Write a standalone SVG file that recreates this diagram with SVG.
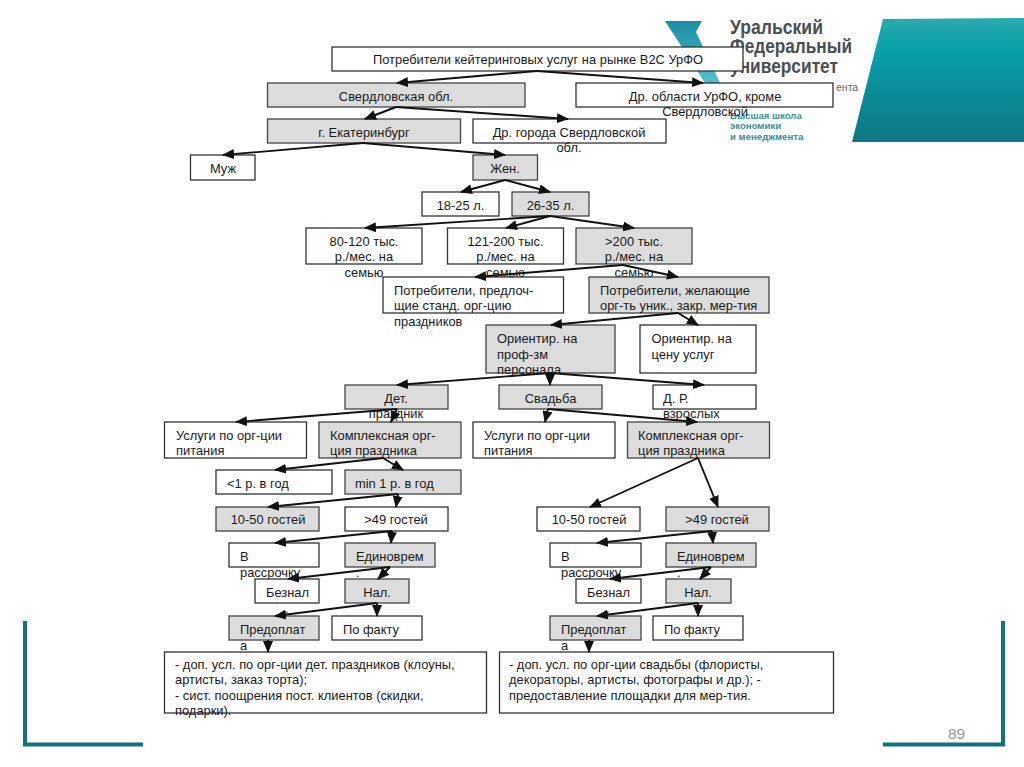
<svg xmlns="http://www.w3.org/2000/svg" width="1024" height="767" viewBox="0 0 1024 767">
<style>
text{font-family:"Liberation Sans",Arial,sans-serif;font-size:12.9px;fill:#1a1a1a}
.c{text-anchor:middle}
rect.w{fill:#fff;stroke:#333;stroke-width:1.3}
rect.g{fill:#dcdcdc;stroke:#444;stroke-width:1.3}
#connectors line{stroke:#111;stroke-width:1.9;marker-end:url(#a)}
.brand{font-weight:bold;font-size:20px;fill:#4a4f52}
.sub{font-weight:bold;font-size:9.6px;fill:#3c8f99}
.fr{fill:#10737c}
</style>
<defs>
<marker id="a" markerUnits="userSpaceOnUse" markerWidth="12" markerHeight="10" refX="11" refY="5" orient="auto"><path d="M0 0L12 5L0 10Z" fill="#111"/></marker>
<linearGradient id="t" x1="0" y1="0" x2="0" y2="1"><stop offset="0" stop-color="#2fa9ae"/><stop offset=".25" stop-color="#08a0aa"/><stop offset="1" stop-color="#0f7684"/></linearGradient>
<linearGradient id="v" x1="0" y1="0" x2="0" y2="1"><stop offset="0" stop-color="#1b8ea0"/><stop offset="1" stop-color="#57bdd0"/></linearGradient>
</defs>
<rect width="1024" height="767" fill="#fff"/>
<g id="background">
<polygon points="883,19 1024,18 1024,142 852,142" fill="url(#t)"/>
<polygon points="665,21 702,21 696,32 720,83 705,83" fill="url(#v)"/>
<text class="brand" x="730" y="34" textLength="93" lengthAdjust="spacingAndGlyphs">Уральский</text>
<text class="brand" x="730" y="53" textLength="122" lengthAdjust="spacingAndGlyphs">Федеральный</text>
<text class="brand" x="730" y="73" textLength="108" lengthAdjust="spacingAndGlyphs">университет</text>
<text x="836" y="91" style="font-size:10.5px;fill:#666">ента</text>
<text class="sub" x="730" y="119">Высшая школа</text>
<text class="sub" x="730" y="129">экономики</text>
<text class="sub" x="730" y="140">и менеджмента</text>
<path class="fr" d="M23 621H27V742.500H143V746.500H23Z"/>
<path class="fr" d="M1001 621H1005V746.500H883V742.500H1001Z"/>
<text x="948" y="739" style="font-size:15.500px;fill:#999">89</text>
</g>
<g id="nodes">
<g id="n1"><rect class="w" x="332" y="47" width="411" height="24"/><text class="c" x="538" y="64">Потребители кейтеринговых услуг на рынке В2С УрФО</text></g>
<g id="n2"><rect class="g" x="267.500" y="83" width="257.500" height="24"/><text class="c" x="396" y="101">Свердловская обл.</text></g>
<g id="n3"><rect class="w" x="576" y="83" width="257" height="24"/><text class="c" x="705" y="101">Др. области УрФО, кроме</text><text class="c" x="705" y="116">Свердловской</text></g>
<g id="n4"><rect class="g" x="267.500" y="119" width="193" height="24"/><text class="c" x="364" y="137">г. Екатеринбург</text></g>
<g id="n5"><rect class="w" x="473" y="119" width="193" height="24"/><text class="c" x="569" y="137">Др. города Свердловской</text><text class="c" x="569" y="152">обл.</text></g>
<g id="n6"><rect class="w" x="190.500" y="155" width="64.500" height="25"/><text class="c" x="223" y="173">Муж</text></g>
<g id="n7"><rect class="g" x="473" y="155" width="64.500" height="25"/><text class="c" x="505" y="173">Жен.</text></g>
<g id="n8"><rect class="w" x="422" y="192" width="77" height="24"/><text class="c" x="460.500" y="210">18-25 л.</text></g>
<g id="n9"><rect class="g" x="512" y="192" width="77" height="24"/><text class="c" x="550.500" y="210">26-35 л.</text></g>
<g id="n10"><rect class="w" x="306" y="228" width="116" height="36"/><text class="c" x="364" y="246">80-120 тыс.</text><text class="c" x="364" y="261">р./мес. на</text><text class="c" x="364" y="277">семью</text></g>
<g id="n11"><rect class="w" x="447.500" y="228" width="116" height="36"/><text class="c" x="505.500" y="246">121-200 тыс.</text><text class="c" x="505.500" y="261">р./мес. на</text><text class="c" x="505.500" y="277">семью</text></g>
<g id="n12"><rect class="g" x="576" y="228" width="116" height="36"/><text class="c" x="634" y="246">&gt;200 тыс.</text><text class="c" x="634" y="261">р./мес. на</text><text class="c" x="634" y="277">семью</text></g>
<g id="n13"><rect class="w" x="383" y="277" width="180.500" height="36"/><text x="394" y="295">Потребители, предлоч-</text><text x="394" y="310">щие станд. орг-цию</text><text x="394" y="326">праздников</text></g>
<g id="n14"><rect class="g" x="589" y="277" width="180" height="36"/><text x="600" y="295">Потребители, желающие</text><text x="600" y="310">орг-ть уник., закр. мер-тия</text></g>
<g id="n15"><rect class="g" x="486" y="325" width="129" height="48"/><text x="497" y="343">Ориентир. на</text><text x="497" y="359">проф-зм</text><text x="497" y="374">персонала</text></g>
<g id="n16"><rect class="w" x="640" y="325" width="116" height="48"/><text x="651.500" y="343">Ориентир. на</text><text x="651.500" y="359">цену услуг</text></g>
<g id="n17"><rect class="g" x="345" y="385" width="103" height="24"/><text class="c" x="396" y="403">Дет.</text><text class="c" x="396" y="418">праздник</text></g>
<g id="n18"><rect class="g" x="499" y="385" width="103" height="24"/><text class="c" x="550.500" y="403">Свадьба</text></g>
<g id="n19"><rect class="w" x="653" y="385" width="103" height="24"/><text x="663" y="403">Д. Р.</text><text x="663" y="418">взрослых</text></g>
<g id="n20"><rect class="w" x="164.500" y="422" width="142" height="36"/><text x="176" y="440">Услуги по орг-ции</text><text x="176" y="455">питания</text></g>
<g id="n21"><rect class="g" x="319" y="422" width="142" height="36"/><text x="330" y="440">Комплексная орг-</text><text x="330" y="455">ция праздника</text></g>
<g id="n22"><rect class="w" x="473" y="422" width="142" height="36"/><text x="484" y="440">Услуги по орг-ции</text><text x="484" y="455">питания</text></g>
<g id="n23"><rect class="g" x="627.500" y="422" width="142" height="36"/><text x="638" y="440">Комплексная орг-</text><text x="638" y="455">ция праздника</text></g>
<g id="n24"><rect class="w" x="216" y="470" width="116" height="24"/><text x="227" y="488">&lt;1 р. в год</text></g>
<g id="n25"><rect class="g" x="345" y="470" width="116" height="24"/><text x="355" y="488">min 1 р. в год</text></g>
<g id="n26"><rect class="g" x="216" y="507" width="103" height="24"/><text class="c" x="268" y="524">10-50 гостей</text></g>
<g id="n27"><rect class="w" x="345" y="507" width="103" height="24"/><text class="c" x="396" y="524">&gt;49 гостей</text></g>
<g id="n28"><rect class="w" x="229" y="543" width="90" height="24"/><text x="240" y="561">В</text><text x="240" y="577">рассрочку</text></g>
<g id="n29"><rect class="g" x="345" y="543" width="90" height="24"/><text x="356" y="561">Единоврем</text><text x="356" y="577">.</text></g>
<g id="n30"><rect class="w" x="255" y="579" width="64" height="24"/><text x="266" y="597">Безнал</text><text x="285" y="613">.</text></g>
<g id="n31"><rect class="g" x="345" y="579" width="64" height="24"/><text class="c" x="377" y="597">Нал.</text></g>
<g id="n32"><rect class="g" x="229" y="616" width="90" height="24"/><text x="240" y="634">Предоплат</text><text x="240" y="650">а</text></g>
<g id="n33"><rect class="w" x="332" y="616" width="90" height="24"/><text x="343" y="634">По факту</text></g>
<g id="n34"><rect class="w" x="537" y="507" width="103" height="24"/><text class="c" x="589" y="524">10-50 гостей</text></g>
<g id="n35"><rect class="g" x="666" y="507" width="103" height="24"/><text class="c" x="717" y="524">&gt;49 гостей</text></g>
<g id="n36"><rect class="w" x="550" y="543" width="91" height="24"/><text x="561" y="561">В</text><text x="561" y="577">рассрочку</text></g>
<g id="n37"><rect class="g" x="666" y="543" width="90" height="24"/><text x="677" y="561">Единоврем</text><text x="677" y="577">.</text></g>
<g id="n38"><rect class="w" x="576" y="579" width="65" height="24"/><text x="587" y="597">Безнал</text><text x="606" y="613">.</text></g>
<g id="n39"><rect class="g" x="666" y="579" width="65" height="24"/><text class="c" x="698" y="597">Нал.</text></g>
<g id="n40"><rect class="g" x="550" y="616" width="91" height="24"/><text x="561" y="634">Предоплат</text><text x="561" y="650">а</text></g>
<g id="n41"><rect class="w" x="653" y="616" width="90" height="24"/><text x="664" y="634">По факту</text></g>
<g id="n42"><rect class="w" x="164.500" y="652" width="322" height="61"/><text x="175" y="669">- доп. усл. по орг-ции дет. праздников (клоуны,</text><text x="175" y="684">артисты, заказ торта);</text><text x="175" y="700">- сист. поощрения пост. клиентов (скидки,</text><text x="175" y="715">подарки).</text></g>
<g id="n43"><rect class="w" x="499.500" y="652" width="334" height="61"/><text x="509" y="669">- доп. усл. по орг-ции свадьбы (флористы,</text><text x="509" y="684">декораторы, артисты, фотографы и др.); -</text><text x="509" y="700">предоставление площадки для мер-тия.</text></g>
</g>
<g id="connectors">
<line x1="537" y1="71" x2="397" y2="83"/><line x1="537" y1="71" x2="703" y2="83"/>
<line x1="396" y1="107" x2="365" y2="119"/><line x1="396" y1="107" x2="568" y2="119"/>
<line x1="363" y1="143" x2="223" y2="155"/><line x1="363" y1="143" x2="505" y2="155"/>
<line x1="505" y1="180" x2="461" y2="192"/><line x1="505" y1="180" x2="550" y2="192"/>
<line x1="550" y1="216" x2="365" y2="228"/><line x1="550" y1="216" x2="506" y2="228"/><line x1="550" y1="216" x2="634" y2="228"/>
<line x1="623" y1="265" x2="475" y2="277"/><line x1="623" y1="265" x2="678" y2="277"/>
<line x1="678" y1="313" x2="551" y2="325"/><line x1="678" y1="313" x2="698" y2="325"/>
<line x1="550" y1="373" x2="397" y2="385"/><line x1="550" y1="373" x2="550" y2="385"/><line x1="550" y1="373" x2="704" y2="385"/>
<line x1="397" y1="409" x2="236" y2="422"/><line x1="397" y1="409" x2="391" y2="422"/>
<line x1="548" y1="409" x2="545" y2="422"/><line x1="548" y1="409" x2="697" y2="422"/>
<line x1="383" y1="458" x2="275" y2="470"/><line x1="383" y1="458" x2="403" y2="470"/>
<line x1="398" y1="494" x2="268" y2="507"/><line x1="398" y1="494" x2="396" y2="507"/>
<line x1="392" y1="531" x2="275" y2="543"/><line x1="392" y1="531" x2="391" y2="543"/>
<line x1="390" y1="567" x2="288" y2="579"/><line x1="390" y1="567" x2="378" y2="579"/>
<line x1="377" y1="603" x2="275" y2="616"/><line x1="377" y1="603" x2="377" y2="616"/>
<line x1="268" y1="640" x2="268" y2="652"/>
<line x1="698" y1="458" x2="590" y2="507"/><line x1="698" y1="458" x2="718" y2="507"/>
<line x1="712" y1="531" x2="597" y2="543"/><line x1="712" y1="531" x2="713" y2="543"/>
<line x1="711" y1="567" x2="610" y2="579"/><line x1="711" y1="567" x2="700" y2="579"/>
<line x1="698" y1="603" x2="597" y2="616"/><line x1="698" y1="603" x2="698" y2="616"/>
<line x1="589" y1="640" x2="589" y2="652"/>
</g>
</svg>
